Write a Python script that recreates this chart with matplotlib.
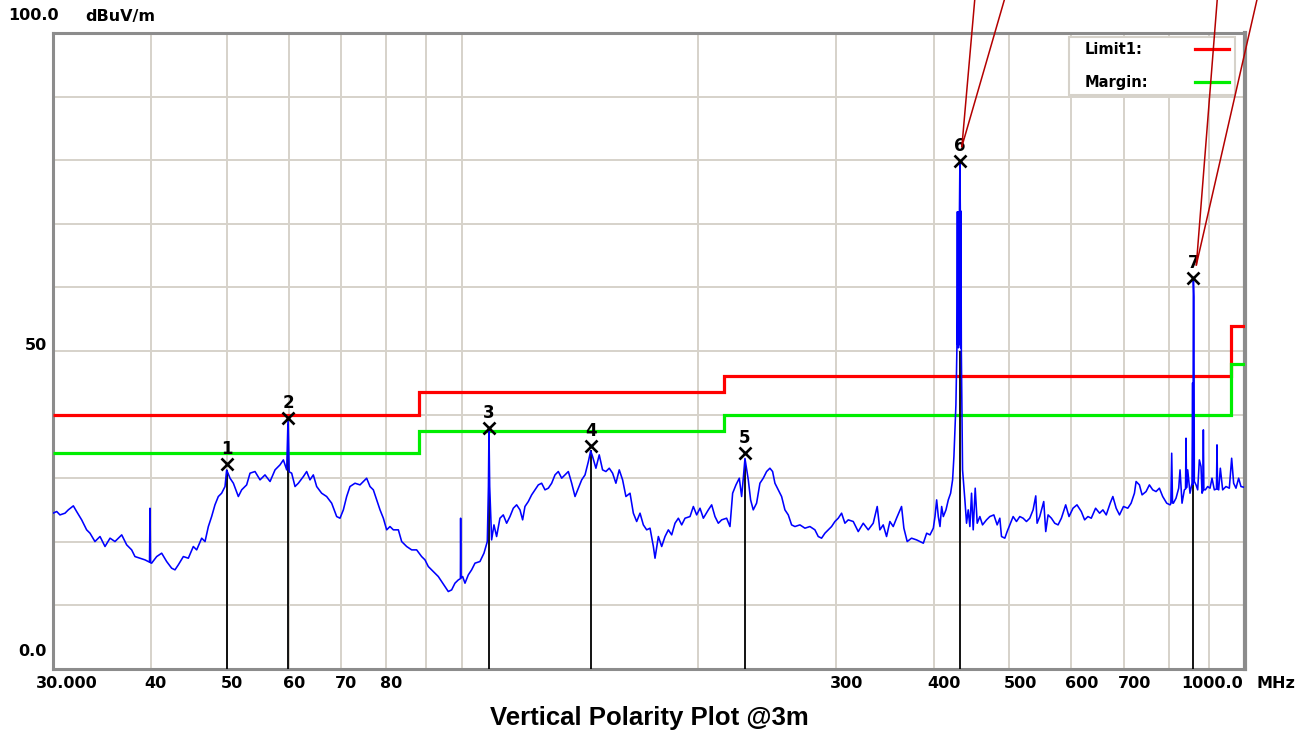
import matplotlib
matplotlib.use('Agg')
import matplotlib.pyplot as plt
from matplotlib import font_manager
from matplotlib.transforms import offset_copy
from matplotlib.lines import Line2D
from matplotlib.patches import Rectangle

# ---------------- data ----------------
trace_freq = [
    30.0, 30.33, 30.62, 31.08, 31.38, 31.85, 32.16, 32.64, 33.12, 33.45, 33.94, 34.45, 34.96, 35.48,
    36.00, 36.72, 37.26, 37.81, 38.18, 38.75, 39.32, 39.71, 39.85, 39.91, 39.97, 40.10, 40.70, 41.30,
    41.91, 42.53, 42.95, 43.37, 44.02, 44.67, 45.33, 45.78, 46.46, 46.92, 47.38, 47.84, 48.31, 48.79,
    49.27, 49.76, 50.00, 50.50, 51.00, 51.75, 52.26, 53.03, 53.56, 54.35, 55.16, 55.97, 56.81, 57.65,
    58.50, 59.08, 59.66, 59.90, 60.10, 60.54, 61.14, 61.74, 62.66, 63.27, 63.89, 64.52, 65.16, 66.12,
    67.10, 68.10, 69.11,
    69.79, 70.48, 71.17, 71.87, 72.94, 74.02, 74.75, 75.48, 76.23, 76.98, 77.74, 78.51, 79.28, 80.06,
    80.85, 81.65, 82.86, 83.67, 84.91, 86.17, 87.44, 88.73, 89.61, 90.49, 91.83, 93.19, 94.11, 95.03,
    95.97, 96.92, 97.87, 98.84, 99.45, 99.52, 99.60, 100.11, 100.80, 101.79, 102.79, 103.81, 105.34,
    106.59, 107.64, 108.00, 108.17, 108.40, 109.02, 109.77, 110.63, 111.72, 112.82, 113.94, 115.06,
    116.20, 117.34, 118.50, 119.43, 120.25, 121.44, 122.64, 123.85, 125.07, 126.30, 127.55, 128.81,
    130.08, 131.36, 132.65, 133.96, 135.28, 136.62, 137.97, 139.33, 140.70, 142.09, 143.49, 144.91,
    145.90, 146.71, 148.16, 149.62, 151.09, 152.58, 154.09, 155.61, 157.14, 158.69, 160.26, 161.84,
    163.80, 165.41, 167.04, 168.69, 170.35, 172.03, 173.73, 175.44, 176.30, 178.04, 179.79, 181.56,
    183.35, 185.16, 186.98, 188.83, 190.69, 192.57, 195.41, 197.34, 199.28, 201.25, 203.23, 206.23,
    208.26, 210.31, 212.38, 214.48, 217.64, 219.79, 221.52, 223.70, 225.91, 227.46, 228.58, 229.70,
    231.96, 233.55, 235.37, 237.69, 240.04, 242.40, 244.79, 247.20, 249.15, 250.87, 253.34, 255.84,
    258.36, 260.91, 263.48, 266.08, 270.02, 274.01, 278.07, 282.18, 284.96, 287.77, 290.61, 293.47,
    296.36, 299.29, 302.24, 305.22, 308.22, 311.26, 315.87, 320.54, 325.28, 330.10, 334.98, 338.94,
    341.61, 344.98, 348.38, 351.81, 355.28, 358.78, 364.09, 366.60, 370.20, 374.94, 380.53,
    384.40, 388.19, 392.01, 395.87, 399.77, 401.73, 403.70, 405.68, 407.68, 409.68, 411.70, 414.93,
    417.77, 420.63, 423.09, 424.74, 427.23, 428.50, 429.10, 429.50, 429.90, 430.30, 430.70, 431.20,
    431.70, 432.27, 432.80, 433.20, 433.60, 434.10,
    435.66, 438.66, 440.81, 442.98, 445.15, 447.34, 449.54, 452.19, 454.86, 458.43, 462.04, 467.49,
    472.08, 477.66, 482.36, 486.15, 488.54, 493.34, 496.73, 500.65, 505.57, 510.54, 515.56, 520.63,
    525.75, 530.92, 536.14, 540.35, 542.47, 546.73, 553.18, 556.46, 560.30, 565.81, 571.37, 576.99,
    582.66, 590.09, 595.90, 602.92, 610.02, 617.80, 623.87, 630.00, 636.20, 644.33, 651.95, 658.36,
    664.84, 672.63, 677.91, 684.57, 691.30, 699.44, 708.34, 715.31, 722.34, 725.88, 733.01, 738.77,
    747.49, 754.84, 762.27, 769.76, 777.33, 784.98, 794.28, 802.09, 804.00, 806.03, 808.00, 809.99,
    816.37, 822.80, 826.03, 830.90, 836.63, 839.50, 840.75, 842.00, 844.88, 850.68, 855.69, 857.20,
    858.10, 859.05, 860.40, 861.50, 865.81, 870.06, 874.34, 878.64, 881.23, 883.50, 884.70, 886.00,
    889.92, 896.04, 902.21, 907.50, 913.74, 919.50, 920.92, 922.50, 925.45, 930.00, 936.40, 945.61,
    954.91, 961.49, 967.15, 973.81, 981.46, 988.21, 995.00,
]
trace_level = [
    24.50, 24.76, 24.23, 24.50, 25.02, 25.65, 24.76, 23.45, 21.88, 21.35, 20.04, 20.83, 19.26, 20.57,
    20.04, 21.09, 19.52, 18.73, 17.68, 17.42, 17.16, 16.90, 16.80, 25.28, 16.70, 16.64, 17.68, 18.21,
    16.90, 15.85, 15.59, 16.37, 17.68, 17.42, 19.26, 18.73, 20.57, 20.04, 22.40, 23.97, 25.81, 27.12,
    27.64, 28.69, 31.30, 30.00, 29.21, 27.12, 28.17, 28.95, 30.79, 31.05, 29.74, 30.52, 29.48, 31.31,
    32.10, 32.88, 31.31, 39.50, 31.00, 30.79, 28.69, 29.21, 30.26, 31.05, 29.74, 30.52, 28.69, 27.64,
    27.12, 26.07, 23.97,
    23.71, 25.02, 27.12, 28.69, 29.21, 28.95, 29.48, 30.00, 28.69, 28.17, 26.59, 25.02, 23.71, 21.88,
    22.40, 21.88, 21.88, 20.04, 19.26, 18.73, 18.73, 17.68, 17.16, 16.11, 15.32, 14.54, 13.75, 12.97,
    12.18, 12.44, 13.49, 14.01, 14.20, 23.71, 14.30, 14.54, 13.49, 14.80, 15.59, 16.64, 16.90,
    18.21, 20.04, 28.70, 37.60, 28.70, 20.30, 22.66, 20.83, 23.71, 24.23, 22.92, 23.97,
    25.28, 25.81, 25.02, 23.45, 25.55, 26.33, 27.38, 28.17, 28.95, 29.21, 28.17, 28.43,
    29.21, 30.52, 31.05, 30.00, 30.52, 31.05, 29.21, 27.12, 28.43, 29.74, 30.52, 32.62,
    34.30, 33.41, 31.57, 33.67, 31.31, 31.05, 31.57, 30.79, 29.21, 31.31, 29.74, 27.12,
    27.64, 24.50, 23.19, 24.50, 22.66, 21.88, 22.14, 19.26, 17.42, 20.83, 19.26, 20.83,
    21.88, 21.09, 22.92, 23.71, 22.66, 23.71, 23.97, 25.55, 24.23, 25.28, 23.71, 25.02,
    25.81, 23.97, 22.92, 23.45, 23.71, 22.40, 27.64, 28.95, 30.00, 27.12, 30.00, 33.10,
    29.74, 26.59, 25.02, 26.07, 29.21, 30.00, 31.05, 31.57, 31.05, 29.21, 28.17, 27.12,
    25.02, 24.23, 22.66, 22.40, 22.66, 22.14, 22.40, 21.88, 20.83, 20.57, 21.35, 21.88,
    22.40, 23.19, 23.71, 24.50, 22.92, 23.45, 23.19, 21.61, 22.92, 21.88, 22.92, 25.55,
    21.88, 22.66, 20.83, 23.19, 22.40, 23.71, 25.55, 22.14, 20.04, 20.57, 20.30,
    20.04, 19.78, 21.35, 21.09, 22.14, 23.97, 26.59, 23.97, 22.40, 25.55, 23.97, 25.02,
    26.59, 27.64, 29.74, 33.41, 41.53, 50.50, 71.90, 51.00, 71.90, 50.50, 71.90, 51.00,
    71.90, 79.80, 72.00, 50.50, 72.00, 50.00,
    31.31, 26.59, 22.92, 25.02, 22.40, 27.64, 21.88, 28.43, 22.92, 23.97, 22.66, 23.45,
    23.97, 24.23, 22.66, 23.71, 20.83, 20.57, 21.61, 22.66, 23.97, 23.19, 23.97, 23.71,
    23.19, 23.71, 25.02, 27.22, 22.92, 23.97, 26.33, 21.61, 24.23, 23.71, 22.92, 22.66,
    23.71, 25.81, 23.97, 25.28, 25.81, 24.76, 23.45, 23.97, 23.71, 25.28, 24.50, 25.02,
    24.23, 26.07, 27.12, 25.28, 24.23, 25.55, 25.28, 26.07, 27.64, 29.48, 28.95, 27.38,
    27.90, 28.95, 28.17, 27.90, 28.43, 27.12, 26.07, 25.81, 26.00, 33.93, 26.10, 26.07,
    26.86, 28.43, 31.31, 26.07, 28.17, 28.30, 36.29, 28.50, 31.31, 27.64, 29.21, 45.00,
    29.00, 61.50, 58.50, 29.50, 28.95, 28.17, 32.88, 31.83, 27.64, 28.00, 37.60, 28.20,
    28.17, 28.69, 28.43, 30.00, 28.17, 28.30, 35.24, 28.30, 28.17, 31.57, 28.17, 28.69,
    28.43, 33.14, 29.21, 28.43, 30.00, 28.69, 28.60,
]

limit_edges = [30, 88, 216, 960, 1000]
limit1_values = [40.0, 43.5, 46.0, 54.0]
margin_values = [34.0, 37.5, 40.0, 48.0]
legend_labels = ['Limit1:', 'Margin:']

marker_ids = ['1', '2', '3', '4', '5', '6', '7']
marker_freq = [50.0, 59.9, 108.17, 145.9, 229.7, 432.27, 859.05]
marker_level = [32.3, 39.5, 37.9, 35.0, 33.9, 79.8, 61.5]
marker_qp = [31.3, 38.5, 28.7, 34.4, 32.9, 50.0, 45.2]

grid_freqs = [40, 50, 60, 70, 80, 90, 100, 200, 300, 400, 500, 600, 700, 800, 900]
grid_levels = [10, 20, 30, 40, 50, 60, 70, 80, 90]
xtick_vals = [30, 40, 50, 60, 70, 80, 300, 400, 500, 600, 700, 1000]
xtick_labels = ['30.000', '40', '50', '60', '70', '80', '300', '400', '500', '600', '700', '1000.0']
ytick_vals = [100, 50, 0]
ytick_labels = ['100.0', '50', '0.0']

title = 'Vertical Polarity Plot @3m'
x_unit = 'MHz'
y_unit = 'dBuV/m'

# ---------------- figure ----------------
W, H = 1309, 738
fig = plt.figure(figsize=(W / 100, H / 100), dpi=100)
fig.patch.set_facecolor('white')
ax = fig.add_axes([53 / W, 1 - 669 / H, (1245 - 53) / W, (669 - 33) / H])
ax.set_xscale('log')
ax.set_xlim(30, 1000)
ax.set_ylim(0, 100)
ax.xaxis.set_minor_locator(matplotlib.ticker.NullLocator())
ax.set_xticks(grid_freqs)
ax.set_yticks(grid_levels)
ax.tick_params(length=0, labelbottom=False, labelleft=False)
ax.grid(True, color='#D6D2CA', lw=1.4, zorder=0)
ax.set_axisbelow(True)
for s in ax.spines.values():
    s.set_color('#8C8C8C')
    s.set_linewidth(2.2)
ax.spines['right'].set_linewidth(3)

FONT = 'DejaVu Sans'

# limit and margin lines
ax.stairs(limit1_values, limit_edges, baseline=None, color='#FF0000', lw=2.3, zorder=3)
ax.stairs(margin_values, limit_edges, baseline=None, color='#00EE00', lw=2.3, zorder=3)

# marker vertical lines
ax.vlines(marker_freq, 0, marker_qp, color='black', lw=1.3, zorder=3.5)

# trace
ax.plot(trace_freq, trace_level, color='#0000FF', lw=1.15, zorder=4)

# markers
ax.plot(marker_freq, marker_level, linestyle='none', marker='x', color='black',
        ms=9, mew=1.9, zorder=6)
for mid, f, v in zip(marker_ids, marker_freq, marker_level):
    ax.annotate(mid, (f, v), xytext=(0, 15), textcoords='offset pixels', ha='center',
                va='center', fontsize=12, fontweight='bold', family=FONT, zorder=7)

# x tick labels
xt = ax.get_xaxis_transform()
for v, lab in zip(xtick_vals, xtick_labels):
    dx = -6
    if lab == '30.000':
        dx = -17
    elif lab == '1000.0':
        dx = -64
    tr = offset_copy(xt, fig=fig, x=dx, y=-15, units='dots')
    ax.text(v, 0, lab, transform=tr, ha='left', va='center', fontsize=11.5,
            fontweight='bold', family=FONT)
ax.text(1, 0, x_unit, transform=offset_copy(ax.transAxes, fig=fig, x=12, y=-15, units='dots'),
        ha='left', va='center', fontsize=11.5, fontweight='bold', family=FONT)

# y tick labels
yt = ax.get_yaxis_transform()
for v, lab in zip(ytick_vals, ytick_labels):
    if lab == '100.0':
        tr = offset_copy(yt, fig=fig, x=-45, y=17, units='dots')
        ax.text(0, v, lab, transform=tr, ha='left', va='center', fontsize=11.5,
                fontweight='bold', family=FONT)
    elif lab == '50':
        tr = offset_copy(yt, fig=fig, x=-6, y=5, units='dots')
        ax.text(0, v, lab, transform=tr, ha='right', va='center', fontsize=11.5,
                fontweight='bold', family=FONT)
    else:
        tr = offset_copy(yt, fig=fig, x=-6, y=17, units='dots')
        ax.text(0, v, lab, transform=tr, ha='right', va='center', fontsize=11.5,
                fontweight='bold', family=FONT)
ax.text(0, 100, y_unit, transform=offset_copy(yt, fig=fig, x=32, y=17, units='dots'),
        ha='left', va='center', fontsize=11.5, fontweight='bold', family=FONT)

# title
names = {f.name for f in font_manager.fontManager.ttflist}
if 'Liberation Sans Narrow' in names:
    tfam, tsize = 'Liberation Sans Narrow', 22
else:
    tfam, tsize = 'Liberation Sans', 18.5
ax.text(0.5, 0, title, transform=offset_copy(ax.transAxes, fig=fig, x=0, y=-49, units='dots'),
        ha='center', va='center', fontsize=tsize, fontweight='bold', family=tfam)

# legend (manual, drawn in pixel space)
fig.add_artist(Rectangle((1069, H - 95), 166, 58, transform=None, facecolor='white',
                         edgecolor='#D6D2CA', lw=1.5, zorder=8))
for i, (lab, col) in enumerate(zip(legend_labels, ['#FF0000', '#00EE00'])):
    yy = H - 49 - i * 33
    fig.text(1085 / W, yy / H, lab, ha='left', va='center', fontsize=10.5,
             fontweight='bold', family=FONT, zorder=9)
    fig.add_artist(Line2D([1195, 1229], [yy, yy], transform=None, color=col, lw=2.3, zorder=9))

# leader lines from off-chart labels to markers 6 and 7
fig.canvas.draw()
leaders = {5: (2, 15, [15, 45]), 6: (3, 13, [24, 64])}
for idx, (dx, dy, tops) in leaders.items():
    px, py = ax.transData.transform((marker_freq[idx], marker_level[idx]))
    for t in tops:
        fig.add_artist(Line2D([px + dx, px + t], [py + dy, H + 2], transform=None,
                              color='#B40000', lw=1.1, zorder=10))

fig.savefig('out.png', dpi=100, facecolor='white')
